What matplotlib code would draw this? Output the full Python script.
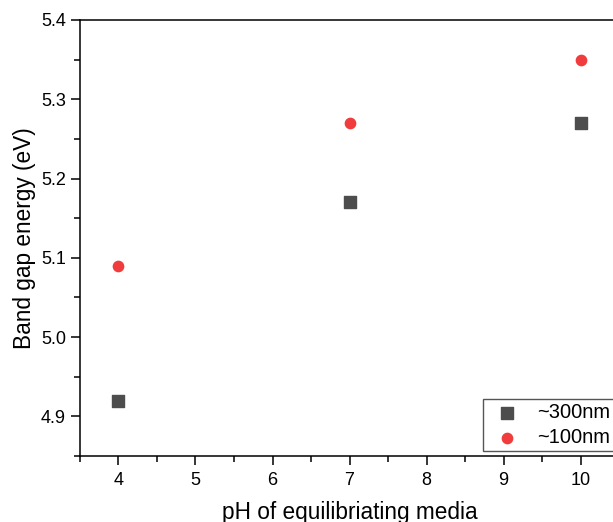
import matplotlib.pyplot as plt
from matplotlib.ticker import MultipleLocator

plt.rcParams['font.family'] = ['Liberation Sans', 'DejaVu Sans']

ph = [4, 7, 10]
gap_300nm = [4.92, 5.17, 5.27]
gap_100nm = [5.09, 5.27, 5.35]

fig = plt.figure(figsize=(6.13, 5.22), dpi=100)
# right edge of the frame runs just past the figure border
ax = fig.add_axes([0.1305, 0.1264, 0.8793, 0.8353])

ax.scatter(ph, gap_300nm, marker='s', s=80, color='#4d4d4d', label='~300nm', zorder=3)
ax.scatter(ph, gap_100nm, marker='o', s=55, color='#f03c3c', label='~100nm', zorder=3)

ax.set_xlim(3.5, 10.5)
ax.set_ylim(4.85, 5.4)
ax.xaxis.set_major_locator(MultipleLocator(1))
ax.xaxis.set_minor_locator(MultipleLocator(0.5))
ax.yaxis.set_major_locator(MultipleLocator(0.1))
ax.yaxis.set_minor_locator(MultipleLocator(0.05))
ax.yaxis.set_major_formatter(plt.FormatStrFormatter('%.1f'))
ax.tick_params(which='major', direction='out', length=6.5, width=1.1, labelsize=13, pad=3.5)
ax.tick_params(axis='x', which='major', pad=5)
ax.tick_params(which='minor', direction='out', length=4.5, width=1.1)
for s in ax.spines.values():
    s.set_linewidth(1.1)

ax.set_xlabel('pH of equilibriating media', fontsize=16.3, labelpad=9)
ax.set_ylabel('Band gap energy (eV)', fontsize=16.3, labelpad=4)

leg = ax.legend(loc='lower left', bbox_to_anchor=(0.748, 0.0115), borderaxespad=0,
                fontsize=14.5, frameon=True, fancybox=False, framealpha=1,
                edgecolor='#555555', borderpad=0.2, labelspacing=0.3,
                handletextpad=0.5)
leg.get_frame().set_linewidth(1.0)

fig.savefig('out.png', dpi=100)
